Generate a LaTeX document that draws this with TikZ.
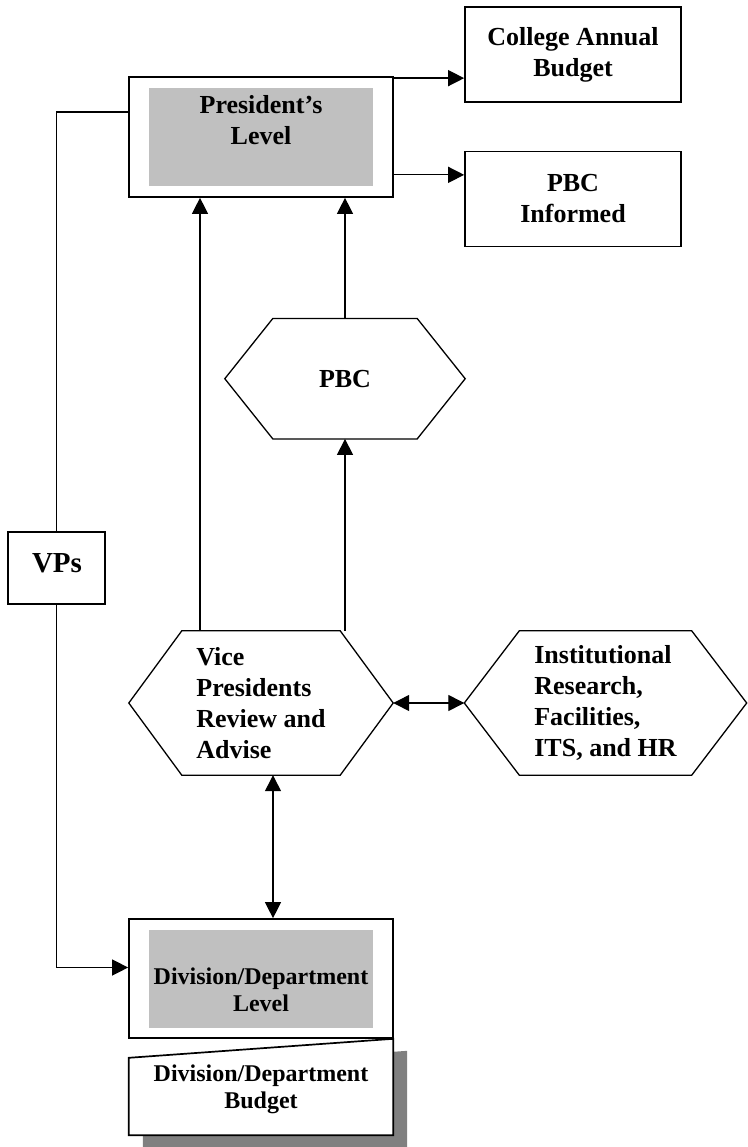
\documentclass[tikz,border=0pt]{standalone}
\usepackage{fontspec}
\setmainfont{Liberation Serif}
\usetikzlibrary{arrows.meta}

\definecolor{levelgray}{HTML}{C0C0C0}
\definecolor{shadowgray}{HTML}{808080}

\begin{document}
\begin{tikzpicture}[x=1pt, y=-1pt,
	every node/.style={font=\bfseries\fontsize{26}{31}\selectfont, align=center, inner sep=0pt},
	boxline/.style={draw, line width=1.7pt},
	levelbox/.style={boxline, minimum width=264pt, minimum height=120pt},
	grayfill/.style={fill=levelgray, minimum width=224pt, minimum height=98pt},
	outbox/.style={boxline, minimum width=216pt, minimum height=95pt},
	hexa/.style={minimum width=#1, minimum height=144pt, align=left},
	link/.style={line width=1.3pt},
	arr/.style={link, -{Triangle[length=16pt,width=16pt]}},
	dblarr/.style={link, {Triangle[length=16pt,width=16pt]}-{Triangle[length=16pt,width=16pt]}}
	]
	\useasboundingbox (0,0) rectangle (747,1147);

	% president level
	\node[levelbox] (pres) at (261,137) {};
	\node[grayfill] (presfill) at (pres.center) {};
	\node (prestxt) at (261,120) {President's\\Level};

	% outputs
	\node[outbox] (budget) at (573,54.5) {College Annual\\Budget};
	\node[outbox] (informed) at (573,199) {PBC\\Informed};

	% hexagons
	\node[hexa=240pt, minimum height=120pt] (pbc) at (345,378.7) {PBC};
	\node[hexa=264pt] (vp) at (261,703) {Vice\\Presidents\\Review and\\Advise};
	\node[hexa=282pt] (ir) at (605.5,703) {Institutional\\Research,\\Facilities,\\ITS, and HR};
	\foreach \n/\s in {pbc/48, vp/53, ir/55}
		\draw[link] (\n.west) -- ([xshift=\s pt]\n.north west) -- ([xshift=-\s pt]\n.north east)
			-- (\n.east) -- ([xshift=-\s pt]\n.south east) -- ([xshift=\s pt]\n.south west) -- cycle;

	% VPs
	\node[boxline, minimum width=97pt, minimum height=72pt] (vps) at (56.8,568) {};
	\node[font=\bfseries\fontsize{29}{34}\selectfont] (vpstxt) at (57,563) {VPs};

	% division level
	\node[levelbox, minimum height=119pt] (div) at (261,978.5) {};
	\node[grayfill] (divfill) at (div.center) {};
	\node[font=\bfseries\fontsize{24}{27}\selectfont] (divtxt) at (261,990) {Division/Department\\Level};

	% division budget
	\node[minimum width=264pt, minimum height=96pt] (divbudget) at (261,1087) {};
	\fill[shadowgray] ([xshift=14pt,yshift=-12pt]divbudget.south west) -- ([xshift=14pt,yshift=-31pt]divbudget.north west)
		-- ([xshift=14pt,yshift=-12pt]divbudget.north east) -- ([xshift=14pt,yshift=-12pt]divbudget.south east) -- cycle;
	\filldraw[boxline, fill=white] (divbudget.south west) -- ([yshift=-19pt]divbudget.north west)
		-- (divbudget.north east) -- (divbudget.south east) -- cycle;
	\node[font=\bfseries\fontsize{24}{27}\selectfont] (divbudgettxt) at (261,1089.5) {Division/Department\\Budget};

	% connectors
	\coordinate (presout1) at ([yshift=-2pt]pres.north east);
	\coordinate (presout2) at ([yshift=23pt]pres.south east);
	\draw[arr] (presout1) -- (presout1 -| budget.west);
	\draw[arr] (presout2) -- (presout2 -| informed.west);
	\coordinate (vpleft) at ([xshift=-61pt]vp.north);
	\draw[arr] (vpleft) -- (vpleft |- pres.south);
	\draw[arr] (vp.north -| pbc.south) -- (pbc.south);
	\draw[arr] (pbc.north) -- (pbc.north |- pres.south);
	\draw[dblarr] (vp.east) -- (ir.west);
	\coordinate (vpdown) at ([xshift=12pt]vp.south);
	\draw[dblarr] (vpdown) -- (vpdown |- div.north);
	\coordinate (presleft) at ([yshift=25pt]pres.west);
	\draw[link] (presleft) -| (vps.north);
	\coordinate (divleft) at ([yshift=11pt]div.west);
	\draw[arr] (vps.south) |- (divleft);
\end{tikzpicture}
\end{document}
